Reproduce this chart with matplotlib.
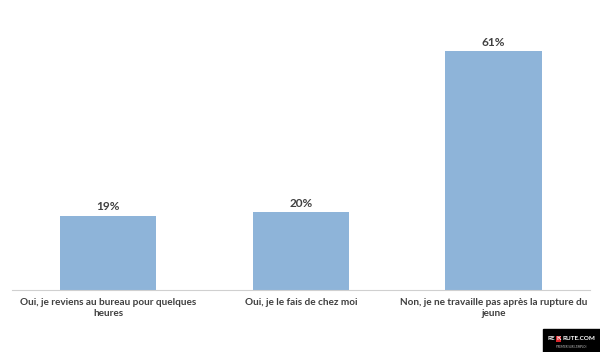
import matplotlib.pyplot as plt
from matplotlib.patches import Rectangle

categories = [
    "Oui, je reviens au bureau pour quelques\nheures",
    "Oui, je le fais de chez moi",
    "Non, je ne travaille pas après la rupture du\njeune",
]
values = [19, 20, 61]
value_labels = ["19%", "20%", "61%"]

plt.rcParams['font.family'] = ['Lato', 'DejaVu Sans']
text_color = '#404040'

fig = plt.figure(figsize=(6, 3.52), dpi=100)
ax = fig.add_axes([0.02, 0.176, 0.963, 0.779])

x = range(len(categories))
ax.bar(x, values, width=0.5, color='#8eb4d9')
for xi, v, lab in zip(x, values, value_labels):
    ax.text(xi, v + 0.8, lab, ha='center', va='bottom', fontsize=8.5,
            fontweight='bold', color=text_color)

ax.set_xlim(-0.5, 2.5)
ax.set_ylim(0, 70)
ax.set_xticks(list(x))
ax.set_xticklabels(categories, fontsize=7.2, fontweight='bold', color=text_color,
                   linespacing=1.3)
ax.tick_params(axis='x', length=0, pad=6)
ax.set_yticks([])
for s in ['top', 'right', 'left']:
    ax.spines[s].set_visible(False)
ax.spines['bottom'].set_color('#d0d0d0')

# logo box
fig.patches.append(Rectangle((0.905, 0.0), 0.095, 0.065, transform=fig.transFigure,
                             color='black', zorder=5))
fig.text(0.913, 0.037, "RE", ha='left', va='center', fontsize=4.6,
         fontweight='bold', color='white', zorder=6)
fig.text(0.928, 0.037, "K", ha='left', va='center', fontsize=4.6,
         fontweight='bold', color='white', zorder=7,
         bbox=dict(boxstyle='square,pad=0.05', fc='#d9262b', ec='none'))
fig.text(0.937, 0.037, "RUTE.COM", ha='left', va='center', fontsize=4.6,
         fontweight='bold', color='white', zorder=6)
fig.text(0.952, 0.014, "PREMIER SUR L'EMPLOI", ha='center', va='center', fontsize=2,
         color='#cccccc', zorder=6)

fig.savefig('out.png', dpi=100)
